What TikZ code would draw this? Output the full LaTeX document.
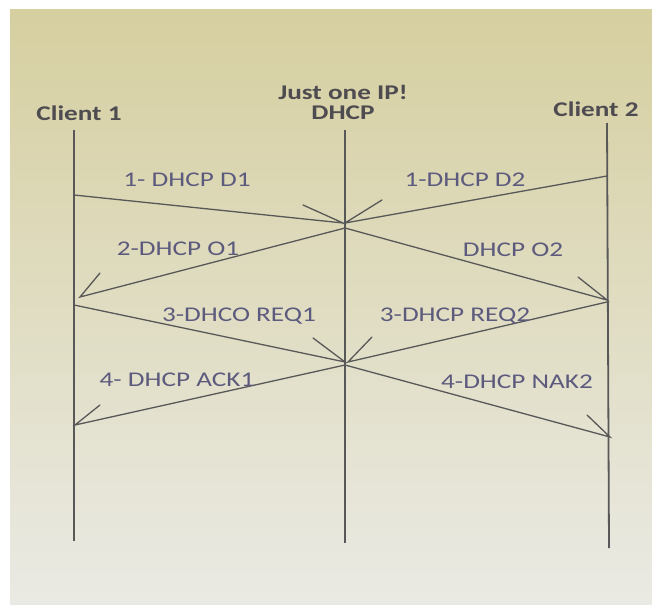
\documentclass[tikz,border=0pt]{standalone}
\usepackage{fontspec}
\setmainfont{Carlito}
\definecolor{linegray}{RGB}{88,88,88}
\definecolor{lblcol}{RGB}{92,90,125}
\definecolor{hdrcol}{RGB}{78,76,80}
\definecolor{bgtop}{RGB}{214,207,160}
\definecolor{bgmid}{RGB}{226,225,200}
\definecolor{bgbot}{RGB}{234,234,228}
\newcommand\stretchtxt[1]{\scalebox{1.3}[1]{#1}}
\begin{document}
\begin{tikzpicture}[x=1bp,y=-1bp,
  life/.style={draw=linegray, line width=1.8bp},
  msg/.style={draw=linegray, line width=1.3bp, line cap=round},
  lbl/.style={text=lblcol, font=\fontsize{21}{21}\selectfont, anchor=base, inner sep=0pt},
  hdr/.style={text=hdrcol, font=\fontsize{21}{21}\selectfont\bfseries, anchor=base, inner sep=0pt}]
\useasboundingbox (0,0) rectangle (652,609);
\fill[white] (0,0) rectangle (652,609);
\shade[top color=bgtop, middle color=bgmid, bottom color=bgbot] (10,10) rectangle (652,604);

% headers
\node[hdr] (hc1) at (79,121) {\stretchtxt{Client 1}};
\node[hdr] (hip) at (343,100) {\stretchtxt{Just one IP!}};
\node[hdr] (hdh) at (343,120) {\stretchtxt{DHCP}};
\node[hdr] (hc2) at (596,117) {\stretchtxt{Client 2}};

% lifelines
\coordinate (c1t) at (74,130);  \coordinate (c1b) at (74,541);
\coordinate (dt)  at (345,130); \coordinate (db)  at (345,543);
\coordinate (c2t) at (607,123); \coordinate (c2b) at (609,548);
\draw[life] (c1t) -- (c1b);
\draw[life] (dt) -- (db);
\draw[life] (c2t) -- (c2b);

% message end points
\coordinate (a1s) at (74,195);  \coordinate (a1t) at (343,223);
\coordinate (a2s) at (607,176); \coordinate (a2t) at (345,223);
\coordinate (a3s) at (345,228); \coordinate (a3t) at (80,297);
\coordinate (a4s) at (345,228); \coordinate (a4t) at (607,300);
\coordinate (a5s) at (74,305);  \coordinate (a5t) at (345,362);
\coordinate (a6s) at (607,302); \coordinate (a6t) at (348,362);
\coordinate (a7s) at (345,365); \coordinate (a7t) at (75,425);
\coordinate (a8s) at (345,365); \coordinate (a8t) at (610,437);

% messages with single barbs
\draw[msg] (a1s) -- (a1t) -- ++(-40,-18);
\draw[msg] (a2s) -- (a2t) -- ++(37,-23);
\draw[msg] (a3s) -- (a3t) -- ++(20,-24);
\draw[msg] (a4s) -- (a4t) -- ++(-29,-23);
\draw[msg] (a5s) -- (a5t) -- ++(-32,-24);
\draw[msg] (a6s) -- (a6t) -- ++(24,-25);
\draw[msg] (a7s) -- (a7t) -- ++(25,-20);
\draw[msg] (a8s) -- (a8t) -- ++(-23,-22);

% labels
\node[lbl] (l1) at (187,187) {\stretchtxt{1- DHCP D1}};
\node[lbl] (l2) at (465,187) {\stretchtxt{1-DHCP D2}};
\node[lbl] (l3) at (178,255) {\stretchtxt{2-DHCP O1}};
\node[lbl] (l4) at (513,256) {\stretchtxt{DHCP O2}};
\node[lbl] (l5) at (239,321) {\stretchtxt{3-DHCO REQ1}};
\node[lbl] (l6) at (455,321) {\stretchtxt{3-DHCP REQ2}};
\node[lbl] (l7) at (177,386) {\stretchtxt{4- DHCP ACK1}};
\node[lbl] (l8) at (517,388) {\stretchtxt{4-DHCP NAK2}};
\end{tikzpicture}
\end{document}
